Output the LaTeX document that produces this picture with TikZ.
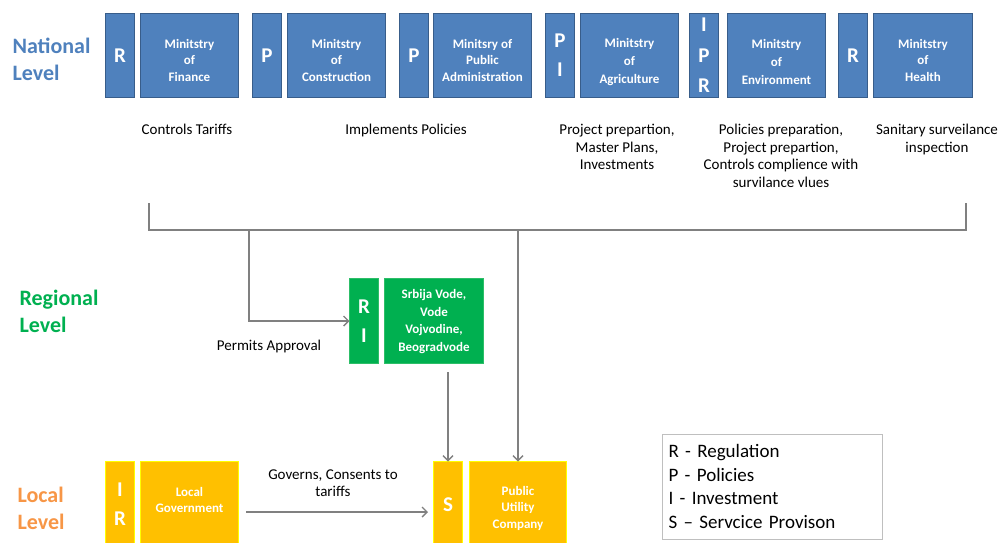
\documentclass[tikz,border=0pt]{standalone}
\usepackage{fontspec}
\setmainfont{Carlito}
\usetikzlibrary{arrows.meta}

\definecolor{natblue}{HTML}{4F81BD}
\definecolor{natedge}{HTML}{385D8A}
\definecolor{reggreen}{HTML}{00B050}
\definecolor{regedge}{HTML}{2DBE68}
\definecolor{locamber}{HTML}{FFC000}
\definecolor{locedge}{HTML}{FFFF00}
\definecolor{locorange}{HTML}{F79646}
\definecolor{linkgray}{HTML}{808080}
\definecolor{legendgray}{HTML}{BFBFBF}

\tikzset{
  unitbox/.style={rectangle, anchor=north west, inner sep=0pt, outer sep=0pt,
    align=center, text=white, line width=1.4pt},
  natbox/.style={unitbox, fill=natblue, draw=natedge},
  regbox/.style={unitbox, fill=reggreen, draw=regedge},
  locbox/.style={unitbox, fill=locamber, draw=locedge},
  lettertext/.style={font=\bfseries\fontsize{21}{29}\selectfont},
  boxlabel/.style={inner sep=0pt, align=center, text=white, font=\bfseries\fontsize{13}{16.5}\selectfont},
  wideboxlabel/.style={boxlabel, font=\bfseries\fontsize{13}{18}\selectfont},
  bigletters/.style={inner sep=0pt, align=center, text=white, font=\bfseries\fontsize{21}{29}\selectfont},
  desctext/.style={font=\fontsize{15}{17.5}\selectfont, align=center, anchor=north},
  leveltext/.style={font=\bfseries\fontsize{22}{27}\selectfont, align=left, anchor=west},
  link/.style={draw=linkgray, line width=1.4pt},
  arrowlink/.style={link, -{Straight Barb[length=5pt,width=10pt]}},
}

\begin{document}
\begin{tikzpicture}[x=1pt, y=-1pt]
\useasboundingbox (0,0) rectangle (999,542);
\clip (0,0) rectangle (999,542);

% ---- national level ----
\node[leveltext, text=natblue] (natlabel) at (9,59) {National\\Level};

\node[natbox, lettertext, minimum width=29pt, minimum height=84pt] (finL) at (105.5,13.5) {R};
\node[natbox, minimum width=98pt, minimum height=84pt] (fin) at (140.5,13.5) {};
\node[boxlabel] (finT) at (189.5,60) {Minitstry\\of\\Finance};

\node[natbox, lettertext, minimum width=29pt, minimum height=84pt] (conL) at (252.5,13.5) {P};
\node[natbox, minimum width=98pt, minimum height=84pt] (con) at (287.5,13.5) {};
\node[boxlabel] (conT) at (336.5,60) {Minitstry\\of\\Construction};

\node[natbox, lettertext, minimum width=29pt, minimum height=84pt] (admL) at (399.5,13.5) {P};
\node[natbox, minimum width=98pt, minimum height=84pt] (adm) at (433.5,13.5) {};
\node[boxlabel] (admT) at (482.5,60) {Minitsry of\\Public\\Administration};

\node[natbox, lettertext, minimum width=29pt, minimum height=84pt] (agrL) at (545.5,13.5) {P\\I};
\node[natbox, minimum width=98pt, minimum height=84pt] (agr) at (580.5,13.5) {};
\node[wideboxlabel] (agrT) at (629.5,62) {Minitstry\\of\\Agriculture};

\node[natbox, lettertext, minimum width=29pt, minimum height=84pt, font=\bfseries\fontsize{21}{30.5}\selectfont] (envL) at (689.5,13.5) {I\\P\\R};
\node[natbox, minimum width=98pt, minimum height=84pt] (env) at (727.5,13.5) {};
\node[wideboxlabel] (envT) at (776.5,62) {Minitstry\\of\\Environment};

\node[natbox, lettertext, minimum width=29pt, minimum height=84pt] (heaL) at (838.5,13.5) {R};
\node[natbox, minimum width=99pt, minimum height=84pt] (hea) at (873.5,13.5) {};
\node[boxlabel] (heaT) at (923,60) {Minitstry\\of\\Health};

% ---- roles of the ministries ----
\node[desctext] (finD) at (187,121) {Controls Tariffs};
\node[desctext] (conD) at (406,121) {Implements Policies};
\node[desctext] (agrD) at (617,121) {Project prepartion,\\Master Plans,\\Investments};
\node[desctext] (envD) at (781,121) {Policies preparation,\\Project prepartion,\\Controls complience with\\survilance vlues};
\node[desctext] (heaD) at (937,121) {Sanitary surveilance\\inspection};

% ---- bracket gathering the ministries ----
\coordinate (brL) at (149,203);
\coordinate (brLb) at (149,230);
\coordinate (brR) at (966,203);
\coordinate (brRb) at (966,230);
\coordinate (tapReg) at (249,230);
\coordinate (tapLoc) at (518,230);
\draw[link] (brL) -- (brLb) -- (brRb) -- (brR);

% ---- regional level ----
\node[leveltext, text=reggreen] (reglabel) at (16,311) {Regional\\Level};

\node[regbox, lettertext, minimum width=29pt, minimum height=85pt] (regL) at (349.5,278.5) {R\\I};
\node[regbox, minimum width=99pt, minimum height=85pt] (reg) at (384.5,278.5) {};
\node[boxlabel, font=\bfseries\fontsize{13}{17.5}\selectfont] (regT) at (434,321.5) {Srbija Vode,\\Vode\\Vojvodine,\\Beogradvode};

\node[font=\fontsize{15}{17.5}\selectfont] (permits) at (269,346) {Permits Approval};

\draw[arrowlink] (tapReg) |- (regL.west);

% ---- local level ----
\node[leveltext, text=locorange] (loclabel) at (14,508) {Local\\Level};

\node[locbox, minimum width=29pt, minimum height=102pt] (govL) at (105.5,461.5) {};
\node[bigletters] (govLT) at (120,504.5) {I\\R};
\node[locbox, minimum width=98pt, minimum height=102pt] (gov) at (140.5,461.5) {};
\node[boxlabel] (govT) at (189.5,500) {Local\\Government};

\node[locbox, minimum width=29pt, minimum height=102pt] (pucL) at (433.5,461.5) {};
\node[bigletters] (pucLT) at (448,505) {S};
\node[locbox, minimum width=97pt, minimum height=102pt] (puc) at (469.5,461.5) {};
\node[boxlabel] (pucT) at (518,508) {Public\\Utility\\Company};

\coordinate (regOut) at (448,372);
\draw[arrowlink] (regOut) -- (pucL.north);
\draw[arrowlink] (tapLoc) -- (puc.north);

\coordinate (govOut) at (246,512);
\coordinate (pucIn) at (428,512);
\draw[arrowlink] (govOut) -- (pucIn);
\node[desctext] (governs) at (333,466) {Governs, Consents to\\tariffs};

% ---- legend ----
\node[draw=legendgray, line width=1pt, anchor=north west, minimum width=220pt, minimum height=105pt,
      align=left, text width=208pt, inner sep=6pt, font=\fontsize{19}{23.7}\selectfont] (legend) at (662,433.5)
  {R - Regulation\\P - Policies\\I - Investment\\S -- Servcice Provison};
\end{tikzpicture}
\end{document}
